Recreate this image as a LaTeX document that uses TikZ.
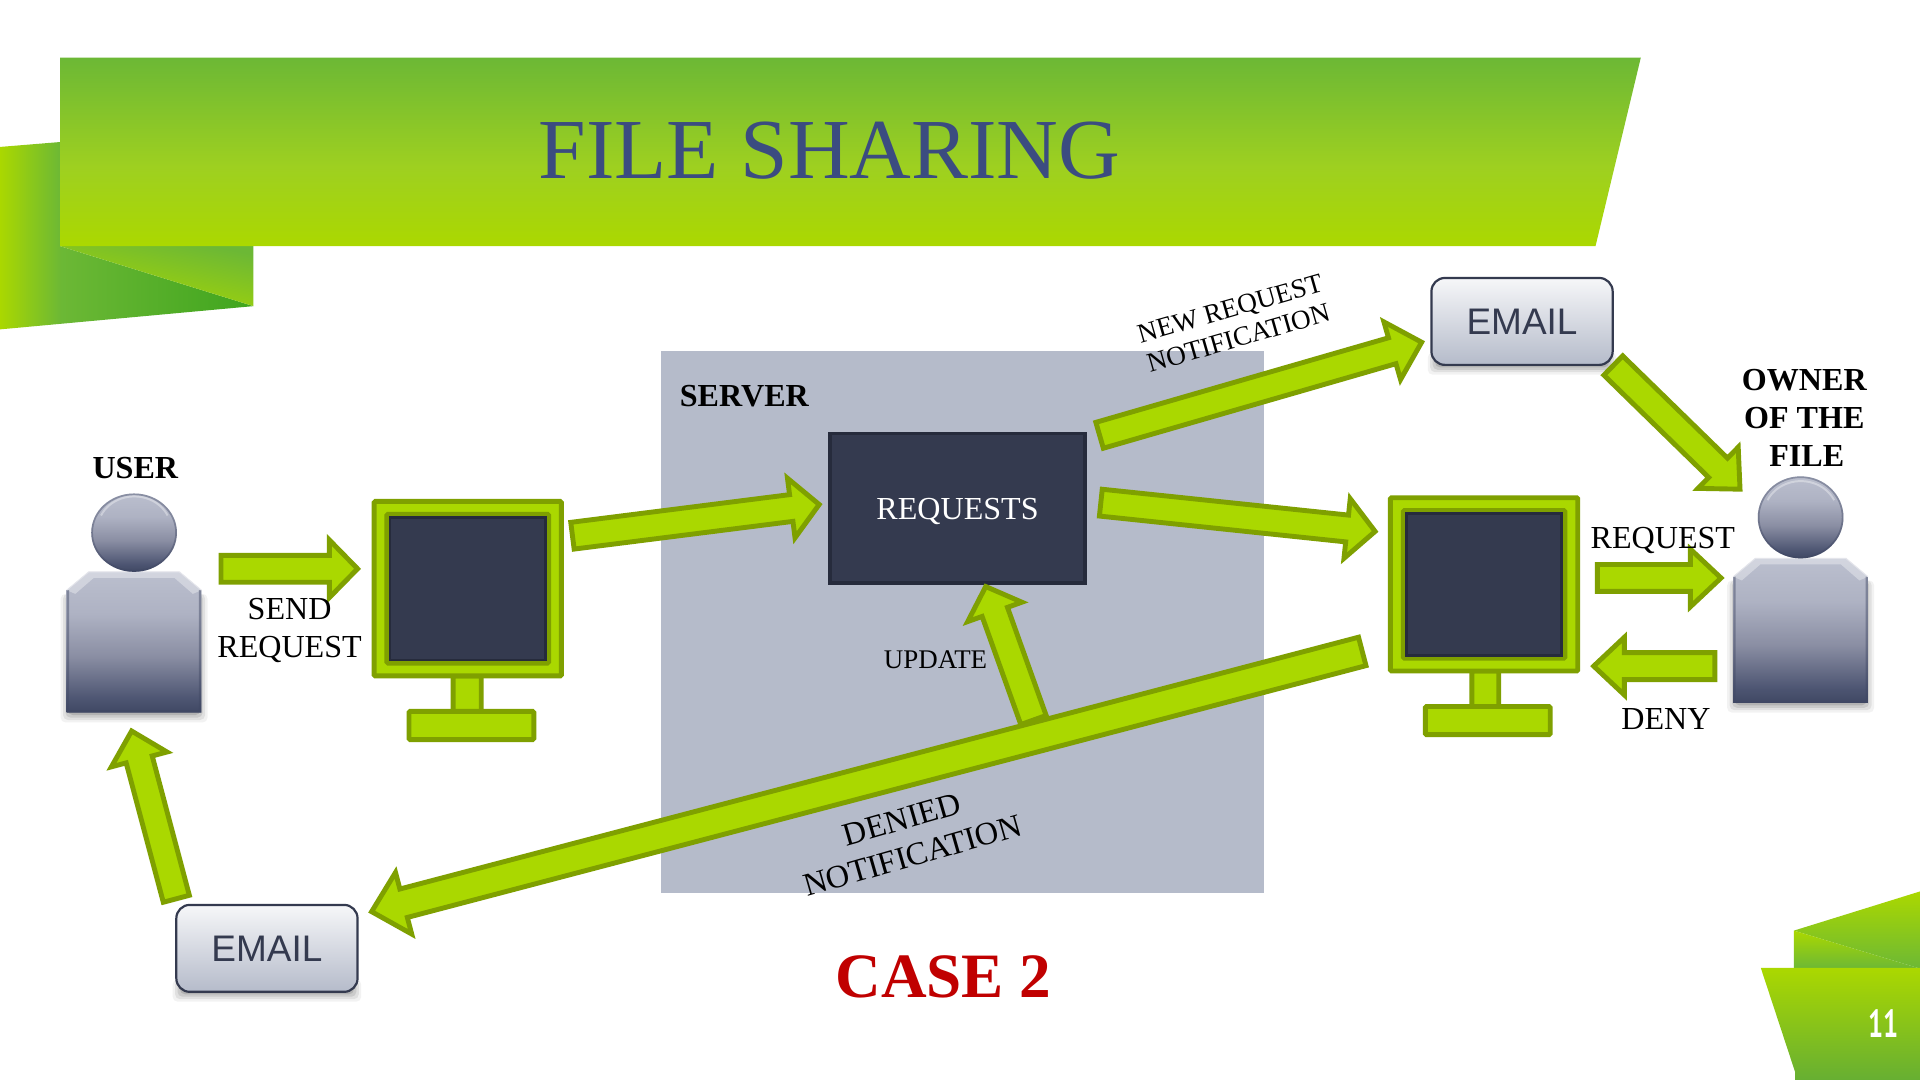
\documentclass[tikz,border=0pt]{standalone}
\usepackage{fontspec}
\setmainfont{Liberation Serif}
\newfontfamily\arialf{Liberation Sans}
\newfontfamily\numf{PT Sans}
\usetikzlibrary{calc}
\definecolor{gTop}{HTML}{6CB835}
\definecolor{gMid}{HTML}{9ED020}
\definecolor{gBot}{HTML}{ABD800}
\definecolor{gDeep}{HTML}{3FA51E}
\definecolor{arFill}{HTML}{AAD800}
\definecolor{arLine}{HTML}{7FA000}
\definecolor{slate}{HTML}{343A4F}
\definecolor{slateD}{HTML}{262B3C}
\definecolor{srv}{HTML}{B5BBCA}
\definecolor{persT}{HTML}{BBBFCE}
\definecolor{persA}{HTML}{AEB2C3}
\definecolor{persM}{HTML}{8A8EA3}
\definecolor{persC}{HTML}{4D5572}
\definecolor{persB}{HTML}{3F4763}
\definecolor{titleC}{HTML}{3B4C80}
\definecolor{caseC}{HTML}{C00000}
\pgfdeclarehorizontalshading{ribbonh}{100bp}{color(0bp)=(arFill);color(25bp)=(arFill);color(37bp)=(gTop);color(75bp)=(gDeep);color(100bp)=(gDeep)}
\pgfdeclareverticalshading{bannerv}{100bp}{color(0bp)=(gBot);color(25bp)=(gBot);color(46bp)=(gMid);color(75bp)=(gTop);color(100bp)=(gTop)}
\pgfdeclareverticalshading{persv}{100bp}{color(0bp)=(persB);color(25bp)=(persB);color(30bp)=(persC);color(45bp)=(persM);color(60bp)=(persA);color(75bp)=(persT);color(100bp)=(persT)}
\tikzset{
  blockar/.style={draw=arLine,fill=arFill,line width=4pt,line join=miter,miter limit=10},
  lbl/.style={inner sep=0pt,font=\fontsize{26.2}{31}\selectfont,align=center,text=black},
  lblb/.style={lbl,font=\fontsize{26.2}{31}\selectfont\bfseries},
  lbls/.style={lbl,font=\fontsize{22}{26}\selectfont},
  monpart/.style={draw=arLine,fill=arFill,line width=4pt,rounded corners=1pt},
  emailbox/.style={draw=slate,line width=1.8pt,rounded corners=11pt,top color=white!88!srv,bottom color=srv,inner sep=0pt,
     minimum width=148pt,minimum height=71pt,text=slate,font=\arialf\fontsize{30.2}{36}\selectfont},
}
\newcommand\blockarrow[5]{%
  \coordinate (n) at ($(#2)!#5pt!(#1)$);
  \draw[blockar] ($(#1)!#3pt!90:(#2)$) -- ($(n)!#3pt!90:(#2)$) -- ($(n)!#4pt!90:(#2)$) -- (#2)
    -- ($(n)!#4pt!-90:(#2)$) -- ($(n)!#3pt!-90:(#2)$) -- ($(#1)!#3pt!-90:(#2)$) -- cycle;}
\newcommand\softshadow[4]{%
  \foreach \e/\o in {6/.05,4/.07,2/.09,0/.12}{
    \fill[black,opacity=\o,rounded corners=4pt] (#1-\e,#2-2) rectangle (#3+\e,#4+\e);}}
% cx, head centre y, body top, body bottom
\newcommand\personfig[4]{%
  \softshadow{#1-54}{#3+20}{#1+54}{#4+2}
  \shade[shading=persv] (#1-55,#3+15) -- (#1-37,#3) -- (#1+37,#3) -- (#1+55,#3+15) -- (#1+55,#4) -- (#1-55,#4) -- cycle;
  \fill[white,opacity=.35] (#1-55,#3+15) -- (#1-37,#3) -- (#1+37,#3) -- (#1+55,#3+15) -- (#1+48,#3+18) -- (#1+33,#3+5) -- (#1-33,#3+5) -- (#1-48,#3+18) -- cycle;
  \fill[persB,opacity=.45] (#1-55,#3+15) -- (#1-53,#3+15) -- (#1-53,#4-2) -- (#1+53,#4-2) -- (#1+53,#3+15) -- (#1+55,#3+15) -- (#1+55,#4) -- (#1-55,#4) -- cycle;
  \draw[white!60!persT,line width=.8pt] (#1-55,#3+15) -- (#1-37,#3) -- (#1+37,#3) -- (#1+55,#3+15);
  \shade[shading=persv] (#1,#2) ellipse (35pt and #3pt-#2pt);
  \draw[persB,opacity=.4,line width=1.4pt] (#1,#2) ellipse (34.3pt and #3pt-#2pt-0.7pt);
  \draw[white,opacity=.35,line width=1.6pt] (#1-27,#2-14) arc[start angle=205,end angle=335,x radius=30pt,y radius=-27pt];
}
\newcommand\monitorfig[7]{%
  \draw[monpart] (#5,#4) rectangle (#6,#4+30);
  \draw[monpart] (#7,#4+29) rectangle (#7+102,#4+52);
  \draw[monpart] (#1,#2) rectangle (#3,#4);
  \fill[slate,draw=arLine,line width=4pt,rounded corners=1pt] (#1+10.5,#2+10.5) rectangle (#3-10.5,#4-10.5);
  \draw[slateD,line width=2.4pt] (#1+13,#2+13) rectangle (#3-13,#4-13);
}
\begin{document}
\begin{tikzpicture}[x=1pt,y=-1pt]
\useasboundingbox (0,0) rectangle (1568,882);
\fill[white] (0,0) rectangle (1568,882);
% corner ribbons
\shade[shading=ribbonh] (0,120) -- (49,116) -- (49,201) -- (207,250) -- (0,269) -- cycle;
\shade[top color=gTop,bottom color=gBot,shading angle=-12] (49,201) -- (207,201) -- (207,250) -- cycle;
\shade[shading=bannerv] (49,47) -- (1340,47) -- (1303,201) -- (49,201) -- cycle;
\shade[top color=gBot,bottom color=gTop] (1465,760) -- (1568,728) -- (1568,791) -- cycle;
\shade[top color=gBot,bottom color=gTop] (1465,760) -- (1568,791) -- (1465,791) -- cycle;
\shade[top color=gBot,bottom color=gTop!95!black] (1438,790.5) -- (1568,790.5) -- (1568,882) -- (1466,882) -- (1466,875.5) -- cycle;
\node[inner sep=0pt,text=titleC,font=\fontsize{69.8}{70}\selectfont] (title) at (677.5,123) {FILE SHARING};
\node[inner sep=0pt,text=white,xscale=.68,transform shape,font=\numf\bfseries\fontsize{32}{32}\selectfont] (pagenum) at (1538,836) {11};
% server
\fill[srv] (540,287) rectangle (1032,729);
\node[lblb,anchor=west] (serverlbl) at (555,323.5) {SERVER};
\node[draw=slateD,fill=slate,line width=3pt,minimum width=208pt,minimum height=122pt,inner sep=0pt,text=white,text depth=0pt,font=\fontsize{26.2}{26}\selectfont] (requests) at (782,415) {\raisebox{-1.5pt}{REQUESTS}};
% monitors
\monitorfig{305.5}{409.5}{458.5}{552}{370}{393}{334}
\monitorfig{1135.5}{406.5}{1288.5}{548}{1202}{1224}{1164}
% people
\personfig{109.5}{435}{467}{582}
\personfig{1470.5}{422.5}{456}{574}
\node[lblb] (userlbl) at (110.5,382.5) {USER};
\node[lblb] (ownerlbl) at (1473.5,341) {OWNER\\OF THE\\\hspace*{4pt}FILE};
% email boxes
\softshadow{1172}{290}{1314}{300}
\softshadow{147}{802}{289}{812}
\node[emailbox] (emailR) at (1243,262.5) {\raisebox{-2.5pt}{EMAIL}};
\node[emailbox] (emailL) at (218,774.5) {\raisebox{-1.5pt}{EMAIL}};
% arrow end points
\coordinate (a1s) at (180.5,464.5); \coordinate (a1e) at (292,464.5);
\coordinate (a2s) at (467.5,437.5); \coordinate (a2e) at (669,412);
\coordinate (a3s) at (899,410.5); \coordinate (a3e) at (1123,434);
\coordinate (a4s) at (898,355.5); \coordinate (a4e) at (1161,279.5);
\coordinate (a5s) at (1317.5,298.5); \coordinate (a5e) at (1421,399.5);
\coordinate (a6s) at (1304.5,472); \coordinate (a6e) at (1405.5,472);
\coordinate (a7s) at (1400.5,544); \coordinate (a7e) at (1301.5,544);
\coordinate (a8s) at (844,588); \coordinate (a8e) at (805,479);
\coordinate (a9s) at (1112.5,532); \coordinate (a9e) at (303.5,744.5);
\coordinate (a10s) at (144,734); \coordinate (a10e) at (107.5,597);
\blockarrow{a1s}{a1e}{11}{23.5}{23}
\blockarrow{a2s}{a2e}{11}{24.5}{23}
\blockarrow{a3s}{a3e}{11}{24.5}{23}
\blockarrow{a4s}{a4e}{11}{24.5}{25}
\blockarrow{a5s}{a5e}{11}{23.5}{25}
\blockarrow{a6s}{a6e}{11}{23.5}{25}
\blockarrow{a7s}{a7e}{11}{23.5}{25}
\blockarrow{a8s}{a8e}{11}{23.5}{22}
\blockarrow{a9s}{a9e}{12}{26}{27}
\blockarrow{a10s}{a10e}{11}{23.5}{24}
% labels
\node[lbl] (sendlbl) at (236.5,515) {SEND\\REQUEST};
\node[lbl] (reqlbl) at (1358,441) {REQUEST};
\node[lbl] (denylbl) at (1360.5,587) {DENY};
\node[lbls] (updlbl) at (764,539) {UPDATE};
\node[lbl,font=\fontsize{22.2}{25}\selectfont,rotate=16] (newlbl) at (1008,264) {NEW REQUEST\\NOTIFICATION};
\node[lbl,font=\fontsize{26.5}{31}\selectfont,rotate=16] (denlbl) at (741,684) {DENIED\\NOTIFICATION};
\node[inner sep=0pt,text=caseC,font=\fontsize{51.6}{52}\selectfont\bfseries] (caselbl) at (770.5,798) {CASE 2};
\end{tikzpicture}
\end{document}
